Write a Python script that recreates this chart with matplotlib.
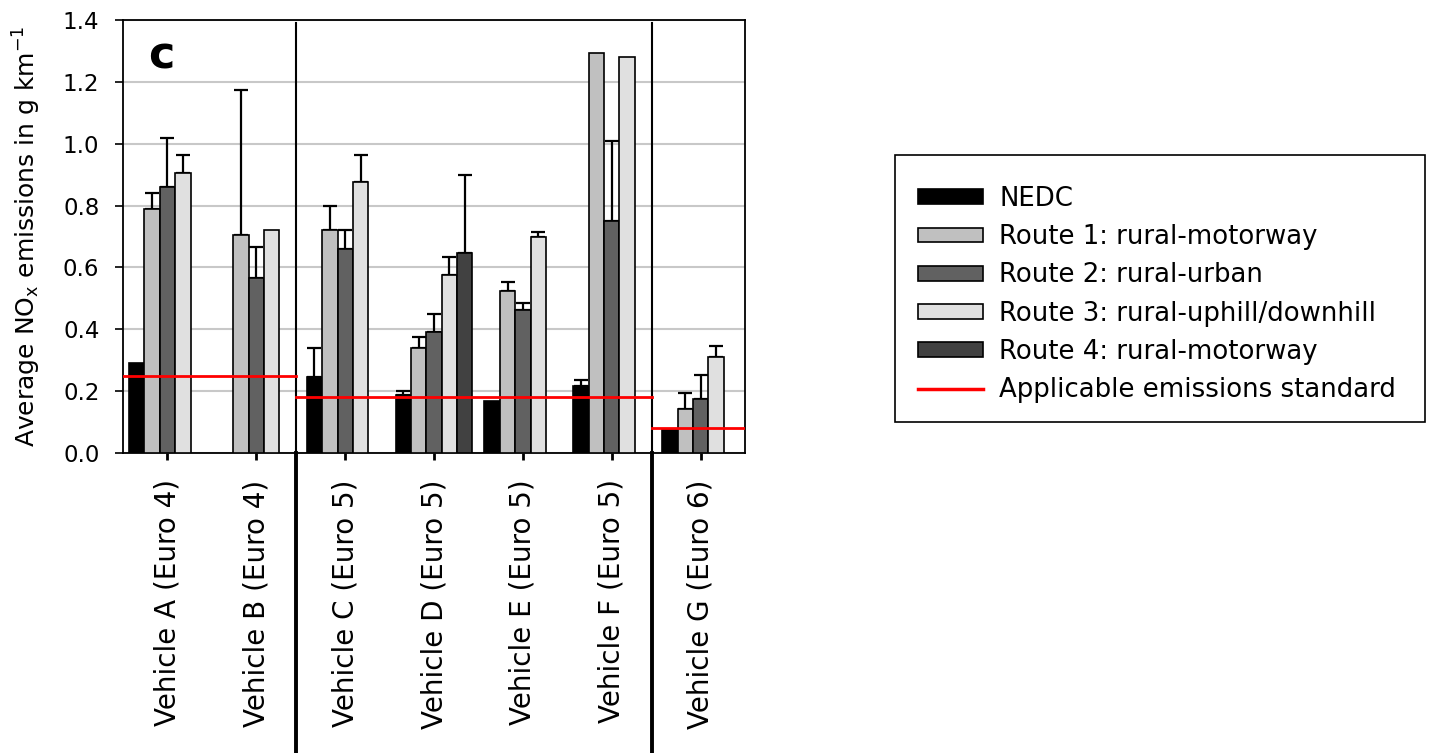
import numpy as np
import matplotlib
matplotlib.use('Agg')
import matplotlib.pyplot as plt
from matplotlib.patches import Patch, Rectangle
from matplotlib.lines import Line2D
import matplotlib.transforms as mtransforms

vehicles = ['Vehicle A (Euro 4)', 'Vehicle B (Euro 4)', 'Vehicle C (Euro 5)',
            'Vehicle D (Euro 5)', 'Vehicle E (Euro 5)', 'Vehicle F (Euro 5)',
            'Vehicle G (Euro 6)']
series = ['NEDC', 'Route 1: rural-motorway', 'Route 2: rural-urban',
          'Route 3: rural-uphill/downhill', 'Route 4: rural-motorway']

nedc   = [0.29, np.nan, 0.245, 0.187, 0.167, 0.216, 0.078]
route1 = [0.79, 0.705, 0.72, 0.34, 0.524, 1.295, 0.141]
route2 = [0.86, 0.567, 0.66, 0.39, 0.464, 0.75, 0.176]
route3 = [0.905, 0.72, 0.875, 0.575, 0.70, 1.28, 0.31]
route4 = [np.nan, np.nan, np.nan, 0.648, np.nan, np.nan, np.nan]

# upper error bars only
nedc_err   = [np.nan, np.nan, 0.095, 0.013, np.nan, 0.02, np.nan]
route1_err = [0.05, 0.47, 0.08, 0.036, 0.03, np.nan, 0.052]
route2_err = [0.16, 0.10, 0.06, 0.06, 0.022, 0.26, 0.075]
route3_err = [0.06, np.nan, 0.09, 0.06, 0.015, np.nan, 0.036]
route4_err = [np.nan, np.nan, np.nan, 0.25, np.nan, np.nan, np.nan]

# emission standard per Euro class: (first vehicle, last vehicle, limit)
standards = [(0, 1, 0.25), (2, 5, 0.18), (6, 6, 0.08)]

values = [nedc, route1, route2, route3, route4]
errors = [nedc_err, route1_err, route2_err, route3_err, route4_err]
colors = ['#000000', '#c0c0c0', '#616161', '#e0e0e0', '#414141']

#%% plot

plt.rcParams['font.family'] = 'DejaVu Sans'
fig = plt.figure(figsize=(14.29, 7.53), dpi=100, facecolor='white')
ax = fig.add_axes([0.0861, 0.3984, 0.4353, 0.575])

x = np.arange(len(vehicles))
w = 0.173
for k in range(len(series)):
    pos = x + (k - 2) * w
    v = np.array(values[k], dtype=float)
    e = np.array(errors[k], dtype=float)
    ax.bar(pos, v, width=w, color=colors[k], edgecolor='black',
           linewidth=1.2, zorder=3)
    m = ~np.isnan(e)
    ax.errorbar(pos[m], v[m], yerr=[np.zeros(m.sum()), e[m]], fmt='none',
                ecolor='black', elinewidth=1.6, capsize=5, capthick=1.6,
                zorder=2)

# separators between Euro classes, running down through the labels
trans = mtransforms.blended_transform_factory(ax.transData, ax.transAxes)
bounds = [1.45, 5.45]
for b in bounds:
    ax.plot([b, b], [0, 0.993], color='black', lw=1.5, transform=trans,
            clip_on=False, zorder=4)
    ax.plot([b, b], [-0.695, 0], color='black', lw=2.8, transform=trans,
            clip_on=False, zorder=4)

# applicable emissions standards, one per class segment
edges = [-0.5] + bounds + [6.5]
for seg, (i0, i1, lim) in enumerate(standards):
    ax.plot([edges[seg], edges[seg + 1]], [lim, lim], color='red', lw=2,
            zorder=5)

ax.set_xlim(-0.5, 6.5)
ax.set_ylim(0, 1.4)
ax.set_yticks(np.arange(0, 1.41, 0.2))
ax.set_yticklabels(['%.1f' % t for t in np.arange(0, 1.41, 0.2)], fontsize=16.5)
ax.set_xticks(x)
ax.set_xticklabels(vehicles, rotation=90, fontsize=20, va='top')
ax.tick_params(axis='y', direction='out', length=6, width=1.2, pad=11)
ax.tick_params(axis='x', direction='out', length=5, width=2, pad=14)
ax.yaxis.grid(True, color='#c8c8c8', lw=1.5, zorder=0)
ax.set_axisbelow(True)
for s in ax.spines.values():
    s.set_linewidth(1.3)

ax.set_ylabel('Average NO$_\\mathregular{x}$ emissions in g km$^\\mathregular{-1}$',
              fontsize=18, labelpad=14)
ax.text(0.061, 0.917, 'c', transform=ax.transAxes, fontsize=32,
        fontweight='bold', ha='center', va='center')

# legend without its own frame; box drawn separately
handles = [Patch(facecolor=c, edgecolor='black', linewidth=1.2) for c in colors]
handles.append(Line2D([0], [0], color='red', lw=2.5))
labels = series + ['Applicable emissions standard']
leg = fig.legend(handles, labels, loc='upper left',
                 bbox_to_anchor=(918 / 1429, 1 - 186 / 753), fontsize=18.7,
                 frameon=False, borderpad=0, borderaxespad=0,
                 handlelength=2.5, handleheight=0.5, handletextpad=0.62,
                 labelspacing=0.47)
fig.patches.append(Rectangle((895 / 1429, 1 - 422 / 753), 530 / 1429,
                             267 / 753, transform=fig.transFigure,
                             facecolor='none', edgecolor='black', lw=1.2))

plt.savefig('out.png', dpi=100, facecolor='white')
